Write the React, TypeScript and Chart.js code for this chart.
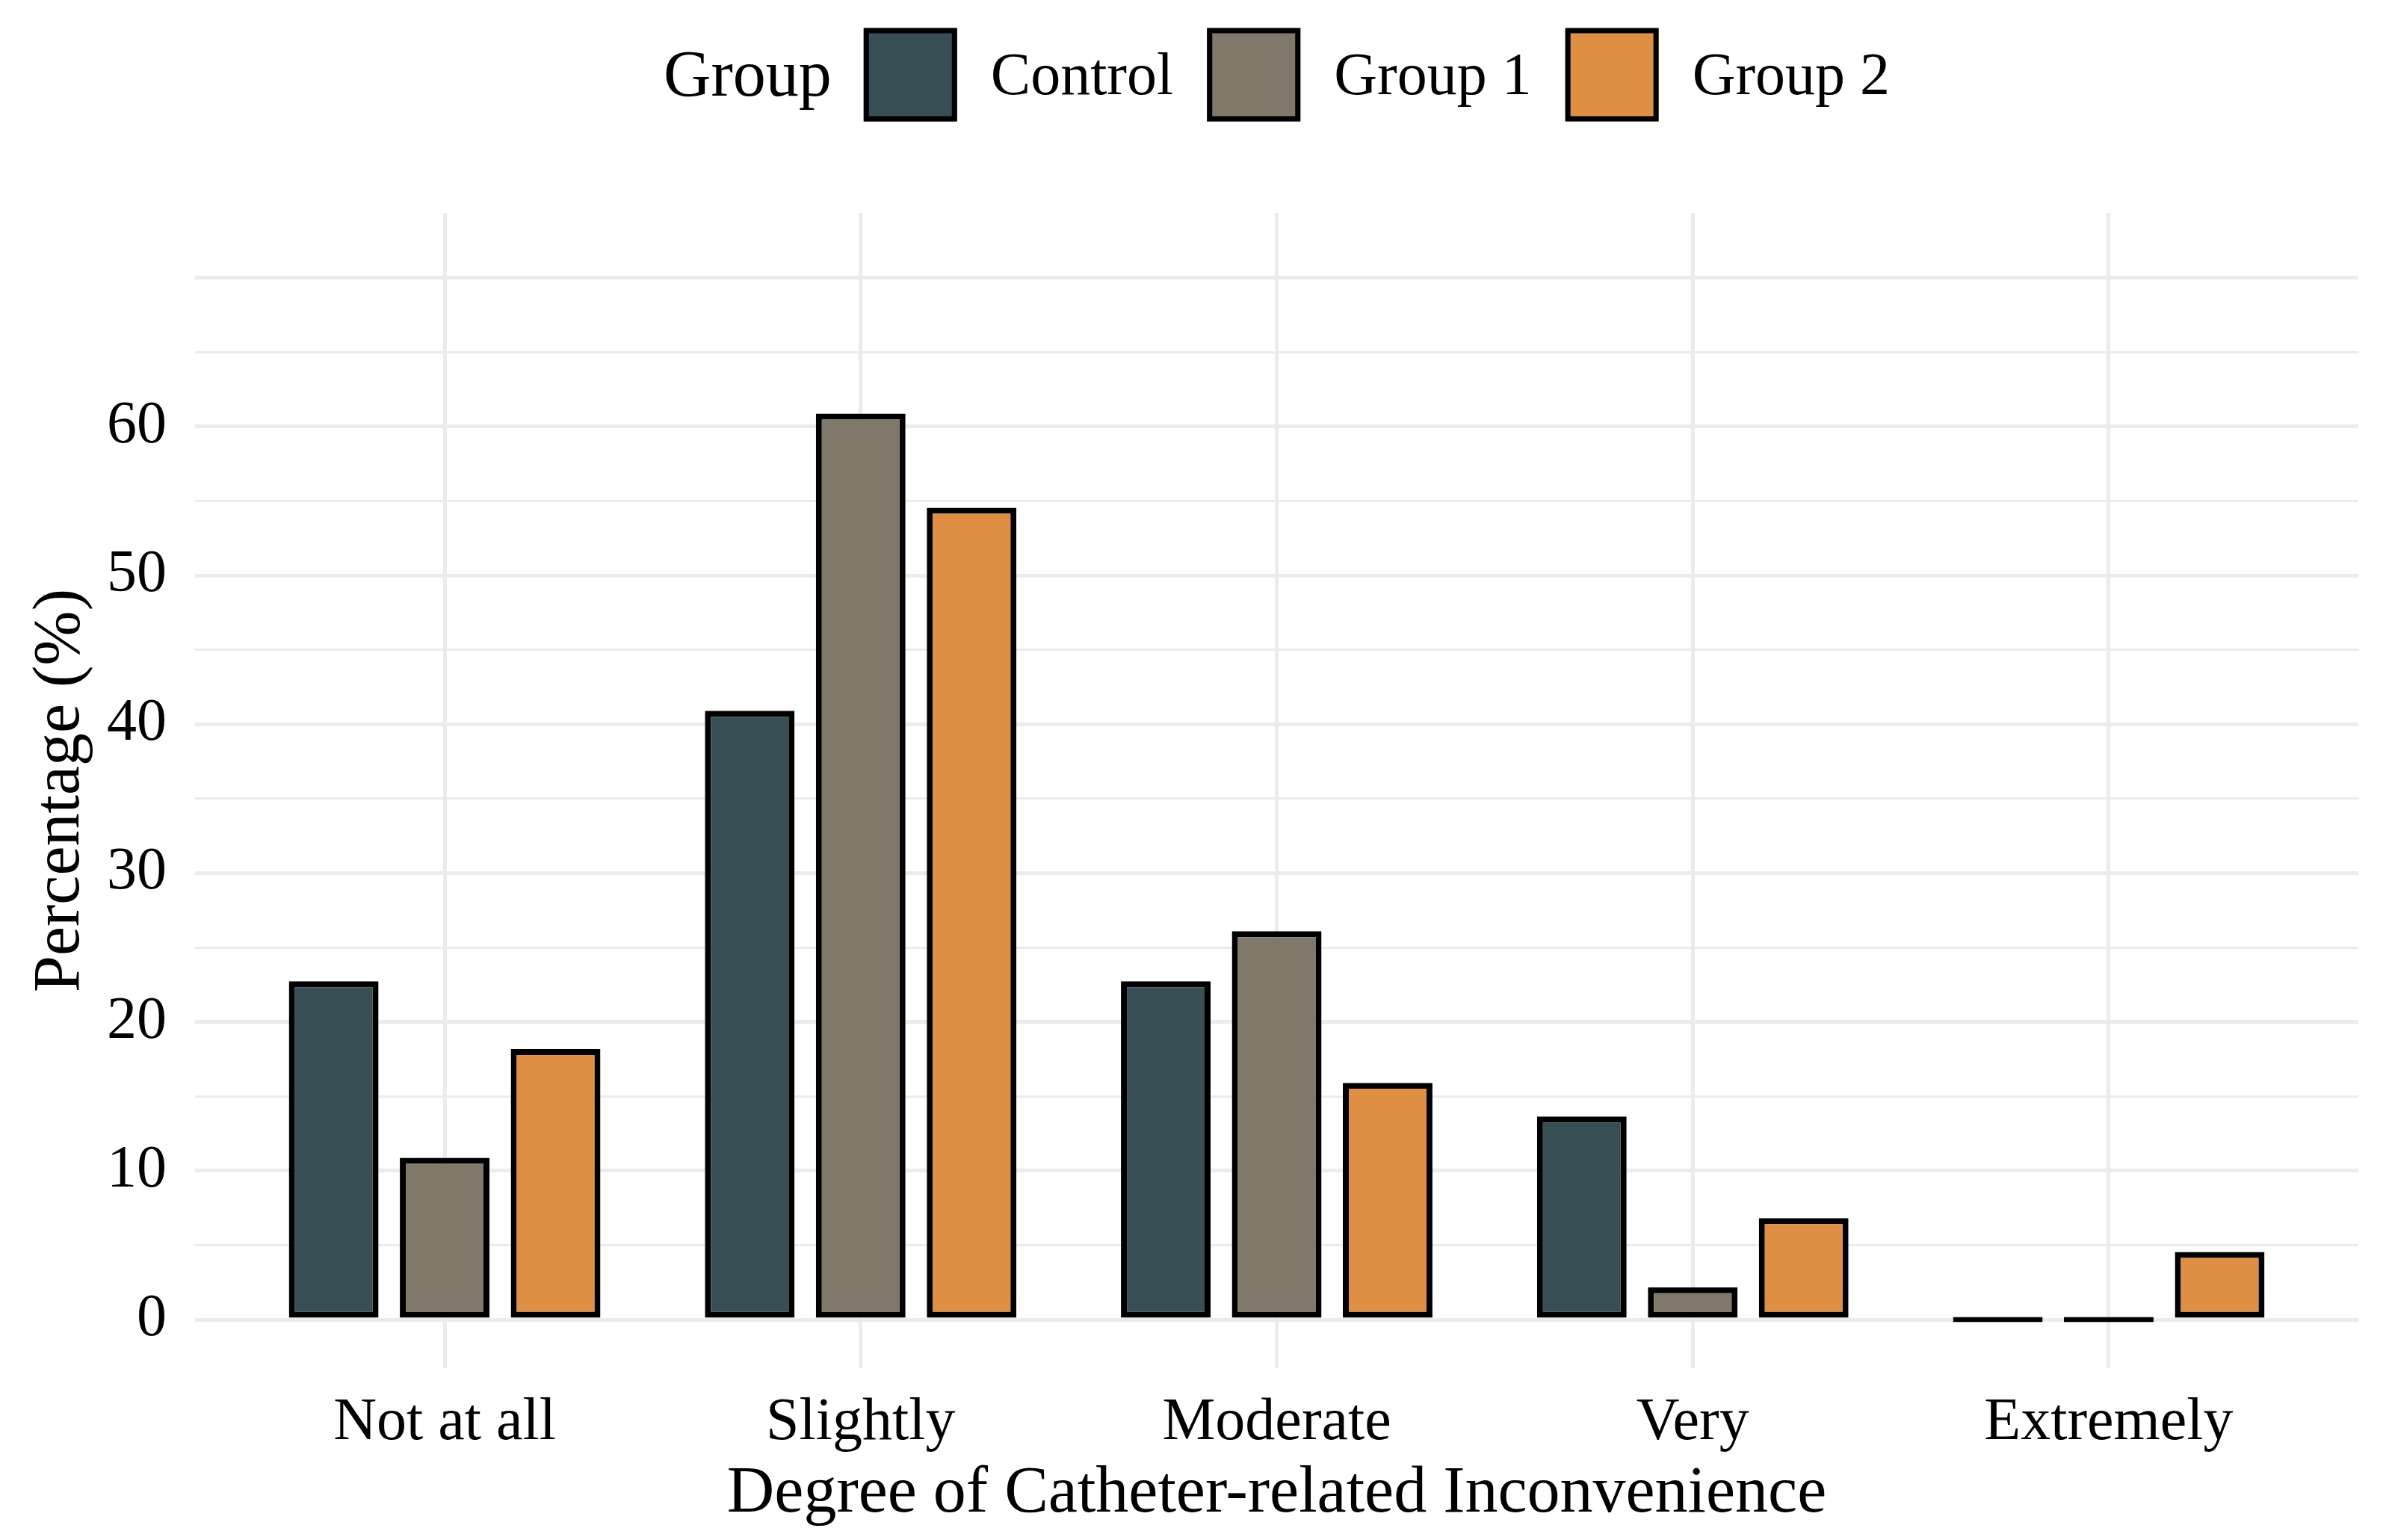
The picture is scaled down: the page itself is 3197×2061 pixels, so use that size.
import { useEffect, useRef } from "react";
import { Chart, registerables } from "chart.js";

Chart.register(...registerables);

const categories = ["Not at all", "Slightly", "Moderate", "Very", "Extremely"];
const groupNames = ["Control", "Group 1", "Group 2"];
const controlPct = [22.73, 40.91, 22.73, 13.64, 0];
const group1Pct = [10.87, 60.87, 26.09, 2.17, 0];
const group2Pct = [18.18, 54.55, 15.91, 6.82, 4.55];
const yTickLabels = [0, 10, 20, 30, 40, 50, 60];
const groupColors = ["#374E55", "#80796B", "#DF8F44"];

const FONT = '"Liberation Serif", "Times New Roman", serif';

// ggplot-style inline legend: "Group" title followed by the keys
const groupLegend = {
  id: "groupLegend",
  afterDraw(chart: any) {
    const { ctx, chartArea } = chart;
    const box = 125;
    const cy = 100;
    const textY = 105;
    ctx.save();
    ctx.textBaseline = "middle";
    ctx.textAlign = "left";
    ctx.font = `88px ${FONT}`;
    const titleW = ctx.measureText("Group").width;
    ctx.font = `80px ${FONT}`;
    const labelW = chart.data.datasets.map((ds: any) => ctx.measureText(ds.label).width);
    const total =
      titleW + 43 + labelW.reduce((a: number, w: number) => a + box + 45 + w, 0) + 45 * (labelW.length - 1);
    let x = (chartArea.left + chartArea.right) / 2 - total / 2;
    ctx.fillStyle = "#000";
    ctx.font = `88px ${FONT}`;
    ctx.fillText("Group", x, textY);
    x += titleW + 43;
    ctx.font = `80px ${FONT}`;
    chart.data.datasets.forEach((ds: any, i: number) => {
      ctx.fillStyle = ds.backgroundColor;
      ctx.fillRect(x, cy - box / 2, box, box);
      ctx.lineWidth = 7;
      ctx.strokeStyle = "#000";
      ctx.strokeRect(x + 3.5, cy - box / 2 + 3.5, box - 7, box - 7);
      x += box + 45;
      ctx.fillStyle = "#000";
      ctx.fillText(ds.label, x, textY);
      x += labelW[i] + 45;
    });
    ctx.restore();
  },
};

const BarChart = () => {
  const chartRef = useRef<HTMLCanvasElement>(null);

  useEffect(() => {
    const ctx = chartRef.current!.getContext("2d")!;
    const series = [controlPct, group1Pct, group2Pct];
    const myChart = new Chart(ctx, {
      type: "bar",
      data: {
        datasets: series.map((vals, g) => ({
          label: groupNames[g],
          data: vals.map((v, i) => ({ x: i, y: v })),
          backgroundColor: groupColors[g],
          borderColor: "#000",
          borderWidth: 8,
          borderSkipped: false,
          minBarLength: 7,
          categoryPercentage: 0.8,
          barPercentage: 0.808,
        })),
      },
      options: {
        animation: false,
        responsive: true,
        maintainAspectRatio: false,
        layout: { padding: { top: 285, right: 41, left: 0, bottom: 0 } },
        plugins: {
          legend: { display: false },
          tooltip: { enabled: false },
        },
        scales: {
          x: {
            type: "linear",
            min: -0.6,
            max: 4.6,
            offset: false,
            grid: { offset: false, color: "#EBEBEB", lineWidth: 5, drawTicks: false },
            border: { display: false },
            ticks: {
              stepSize: 1,
              includeBounds: false,
              autoSkip: false,
              maxRotation: 0,
              padding: 26,
              color: "#000",
              font: { family: FONT, size: 80 },
              callback: (v: any) => (Number.isInteger(v) ? categories[v] ?? "" : ""),
            },
            title: {
              display: true,
              text: "Degree of Catheter-related Inconvenience",
              color: "#000",
              font: { family: FONT, size: 88 },
              padding: { top: 0, bottom: 8 },
            },
            afterFit: (s: any) => {
              s.height = 230;
            },
          },
          y: {
            min: -3.26,
            max: 74.35,
            grid: {
              color: "#EBEBEB",
              lineWidth: (c: any) => (c.tick && c.tick.value % 10 === 0 ? 5 : 3),
              drawTicks: false,
            },
            border: { display: false },
            ticks: {
              stepSize: 5,
              includeBounds: false,
              autoSkip: false,
              padding: 38,
              color: "#000",
              font: { family: FONT, size: 80 },
              callback: (v: any) => (yTickLabels.includes(v) ? String(v) : ""),
            },
            title: {
              display: true,
              text: "Percentage (%)",
              color: "#000",
              font: { family: FONT, size: 88 },
              padding: { top: 29, bottom: 0 },
            },
            afterFit: (s: any) => {
              s.width = 261;
            },
          },
        },
      },
      plugins: [groupLegend],
    } as any);

    return () => {
      myChart.destroy();
    };
  }, []);

  return <canvas ref={chartRef} />;
};

export default function App() {
  return (
    <div style={{ position: "fixed", left: 0, top: 0, width: 3197, height: 2061, background: "#fff" }}>
      <BarChart />
    </div>
  );
}
